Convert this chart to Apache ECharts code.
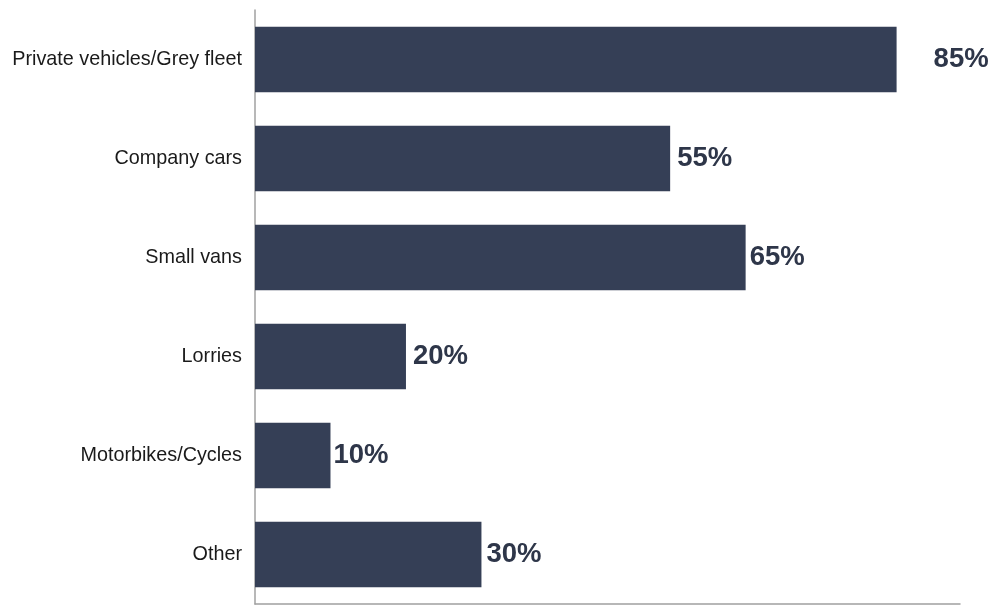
<!DOCTYPE html>
<html>
<head>
<meta charset="utf-8">
<script src="https://cdn.jsdelivr.net/npm/echarts@6/dist/echarts.min.js"></script>
<style>
html,body{margin:0;padding:0;background:#fff;}
#chart{width:996px;height:605px;}
</style>
</head>
<body>
<div id="chart"></div>
<script>
const categories = ["Private vehicles/Grey fleet", "Company cars", "Small vans", "Lorries", "Motorbikes/Cycles", "Other"];
const values = [85, 55, 65, 20, 10, 30];
const labelGaps = [37, 7, 4, 7, 3, 5];

const chart = echarts.init(document.getElementById('chart'), null, {renderer: 'canvas'});
chart.setOption({
  animation: false,
  grid: {left: 255, top: 10, width: 705, height: 594, containLabel: false},
  xAxis: {
    type: 'value', min: 0, max: 93.4,
    axisLine: {show: true, lineStyle: {color: '#a0a0a0', width: 1.5}},
    axisTick: {show: false}, axisLabel: {show: false}, splitLine: {show: false}
  },
  yAxis: {
    type: 'category', data: categories, inverse: true,
    axisLine: {show: true, lineStyle: {color: '#a0a0a0', width: 1.5}},
    axisTick: {show: false},
    axisLabel: {color: '#1a1a1a', fontSize: 19.8, fontFamily: 'Liberation Sans, Arial, sans-serif', margin: 13}
  },
  series: [{
    type: 'bar',
    data: values.map((v, i) => ({value: v, label: {distance: labelGaps[i]}})),
    barWidth: '66%',
    itemStyle: {color: '#353f56'},
    label: {
      show: true, position: 'right',
      formatter: p => p.value + '%',
      color: '#2e3649', fontSize: 27.5, fontWeight: 'bold',
      fontFamily: 'Liberation Sans, Arial, sans-serif'
    }
  }]
});
</script>
</body>
</html>
